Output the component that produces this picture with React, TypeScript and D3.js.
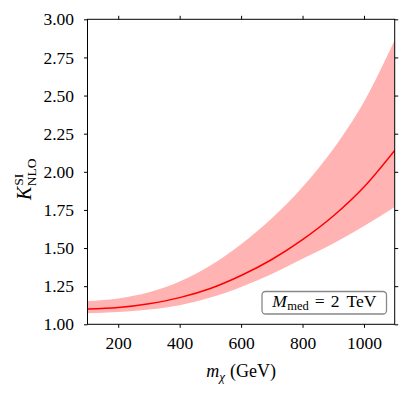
import React, { useEffect, useRef } from 'react';
import * as d3 from 'd3';

// dark matter mass (GeV)
const massGeV = [100, 200, 300, 400, 500, 600, 700, 800, 900, 1000, 1100];
// K factor central value and scale-variation band
const kCentral = [1.10, 1.11, 1.135, 1.175, 1.235, 1.32, 1.425, 1.555, 1.71, 1.90, 2.14];
const kUpper = [1.153, 1.17, 1.21, 1.28, 1.385, 1.525, 1.695, 1.90, 2.15, 2.46, 2.865];
const kLower = [1.072, 1.08, 1.097, 1.125, 1.175, 1.245, 1.33, 1.43, 1.53, 1.645, 1.77];

const xTicks = [200, 400, 600, 800, 1000];
const yTicks = [1.0, 1.25, 1.5, 1.75, 2.0, 2.25, 2.5, 2.75, 3.0];

const FONT = '"Liberation Serif", "DejaVu Serif", serif';

function KFactorPlot() {
    const svgRef = useRef<SVGSVGElement>(null);

    useEffect(() => {
        const svg = d3.select(svgRef.current);
        svg.selectAll('*').remove();

        const left = 87.5, right = 394.7, top = 19.3, bottom = 324.3;

        const x = d3.scaleLinear().domain([100, 1100]).range([left, right]);
        const y = d3.scaleLinear().domain([1, 3]).range([bottom, top]);

        const rows = massGeV.map((m, i) => ({ m, c: kCentral[i], hi: kUpper[i], lo: kLower[i] }));

        svg.append('defs').append('clipPath').attr('id', 'plotclip')
            .append('rect').attr('x', left).attr('y', top)
            .attr('width', right - left).attr('height', bottom - top);

        const g = svg.append('g').attr('clip-path', 'url(#plotclip)');

        // uncertainty band
        const area = d3.area<any>()
            .x(d => x(d.m))
            .y0(d => y(d.lo))
            .y1(d => y(d.hi))
            .curve(d3.curveMonotoneX);
        g.append('path').datum(rows)
            .attr('d', area)
            .attr('fill', '#ffb3b3');

        // central line
        const line = d3.line<any>()
            .x(d => x(d.m))
            .y(d => y(d.c))
            .curve(d3.curveMonotoneX);
        g.append('path').datum(rows)
            .attr('d', line)
            .attr('fill', 'none')
            .attr('stroke', '#ff0000')
            .attr('stroke-width', 1.5);

        // axes on all four sides, ticks outward
        const fmt = d3.format('.2f');
        const bottomAxis = svg.append('g').attr('transform', `translate(0,${bottom})`)
            .call(d3.axisBottom(x).tickValues(xTicks).tickSize(3.5).tickPadding(9).tickFormat(d3.format('d')));
        const topAxis = svg.append('g').attr('transform', `translate(0,${top})`)
            .call(d3.axisTop(x).tickValues(xTicks).tickSize(3.5).tickFormat(() => ''));
        const leftAxis = svg.append('g').attr('transform', `translate(${left},0)`)
            .call(d3.axisLeft(y).tickValues(yTicks).tickSize(3.5).tickPadding(10).tickFormat(d => fmt(d as number)));
        const rightAxis = svg.append('g').attr('transform', `translate(${right},0)`)
            .call(d3.axisRight(y).tickValues(yTicks).tickSize(3.5).tickFormat(() => ''));

        [bottomAxis, topAxis, leftAxis, rightAxis].forEach(a => {
            a.select('.domain').remove();
            a.selectAll('line').attr('stroke', '#000').attr('stroke-width', 1);
            a.selectAll('text').attr('font-family', FONT).attr('font-size', 17.5).attr('fill', '#000');
        });

        // frame
        svg.append('rect')
            .attr('x', left).attr('y', top)
            .attr('width', right - left).attr('height', bottom - top)
            .attr('fill', 'none').attr('stroke', '#000').attr('stroke-width', 1);

        // x label: m_chi (GeV)
        const xl = svg.append('text')
            .attr('x', (left + right) / 2).attr('y', 377)
            .attr('text-anchor', 'middle')
            .attr('font-family', FONT).attr('font-size', 18);
        xl.append('tspan').attr('font-style', 'italic').text('m');
        xl.append('tspan').attr('font-style', 'italic').attr('font-size', 13).attr('dy', 4).text('χ');
        xl.append('tspan').attr('dy', -4).attr('dx', 5).text('(GeV)');

        // y label: K^SI_NLO
        const yl = svg.append('text')
            .attr('transform', `translate(31,200) rotate(-90)`)
            .attr('font-family', FONT).attr('font-size', 20);
        yl.append('tspan').attr('font-style', 'italic').text('K');
        yl.append('tspan').attr('font-size', 13.5).attr('dy', -8).attr('dx', 1).text('SI');
        yl.append('tspan').attr('font-size', 13.5).attr('dy', 13).attr('dx', -12.5).text('NLO');

        // annotation box
        const bx = 262, by = 291.5, bw = 124.5, bh = 22.5;
        svg.append('rect')
            .attr('x', bx).attr('y', by).attr('width', bw).attr('height', bh)
            .attr('rx', 3.5).attr('ry', 3.5)
            .attr('fill', '#fff').attr('stroke', '#888').attr('stroke-width', 1.3);
        const ann = svg.append('text')
            .attr('x', bx + bw / 2).attr('y', by + 15)
            .attr('text-anchor', 'middle')
            .attr('font-family', FONT).attr('font-size', 17.5);
        ann.append('tspan').attr('font-style', 'italic').text('M');
        ann.append('tspan').attr('font-size', 12.5).attr('dy', 3.5).attr('dx', 0.5).text('med');
        ann.append('tspan').attr('dy', -3.5).attr('dx', 6).text('=');
        ann.append('tspan').attr('dx', 6).text('2');
        ann.append('tspan').attr('dx', 7).text('TeV');
    }, []);

    return (
        <svg ref={svgRef} width={415} height={394}
            style={{ position: 'absolute', left: 0, top: 0, background: '#fff' }}></svg>
    );
}

export default function App() {
    return <KFactorPlot />;
}
